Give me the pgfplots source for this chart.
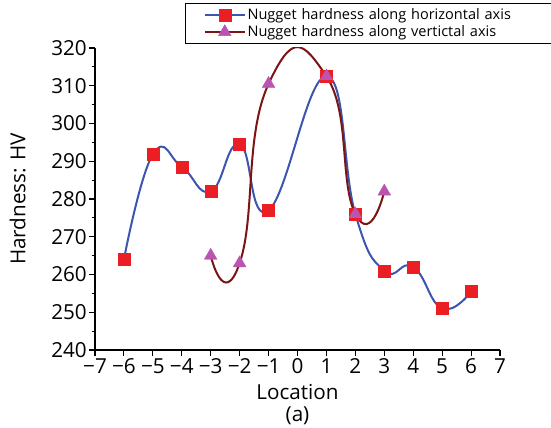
\documentclass[border=0pt]{standalone}
\usepackage{fontspec}
\setmainfont{Open Sans}
\usepackage{pgfplots}
\pgfplotsset{compat=1.18}
\definecolor{hblue}{RGB}{60,85,175}
\definecolor{hred}{RGB}{235,30,35}
\definecolor{vdark}{RGB}{125,20,20}
\definecolor{vpurp}{RGB}{185,85,175}
\begin{document}
\begin{tikzpicture}
\begin{axis}[
  name=ax,
  scale only axis,
  width=303.75pt, height=226.5pt,
  xmin=-7, xmax=7, ymin=240, ymax=320,
  axis x line*=bottom, axis y line*=left,
  axis line style={black, line width=0.8pt},
  xtick={-7,...,7},
  xticklabels={−7,−6,−5,−4,−3,−2,−1,0,1,2,3,4,5,6,7},
  ytick={240,250,...,320},
  minor y tick num=1,
  tick align=outside,
  major tick length=4.5pt, minor tick length=2.5pt,
  tick style={black, line width=0.8pt},
  /pgf/number format/assume math mode=true,
  ticklabel style={font=\fontsize{15.5}{18}\selectfont},
  yticklabel style={inner xsep=1.5pt},
  xticklabel style={inner ysep=2pt},
  label style={font=\fontsize{15.5}{18}\selectfont},
  xlabel={Location},
  xlabel style={at={(axis description cs:0.5,-0.1656)}, anchor=base},
  ylabel={Hardness: HV},
  ylabel style={at={(axis description cs:-0.172,0.5)}, anchor=base},
  clip=true,
  legend cell align=left,
  legend style={at={(axis description cs:0.222,1.149)}, anchor=north west, draw=black, line width=0.6pt,
    font=\fontsize{10.9}{12.5}\selectfont, row sep=0.3pt, inner xsep=14pt, inner ysep=2.3pt,
    nodes={inner xsep=1.5pt, inner ysep=1.4pt, text width=225pt},
    /tikz/every even column/.append style={column sep=0pt}},
  legend image code/.code={\draw[mark repeat=2,mark phase=2,#1] plot coordinates {(0pt,0pt) (15pt,0pt) (30pt,0pt)};},
  legend image post style={line width=1.2pt, sharp plot},
]
\addplot[hblue, line width=1.5pt, smooth, tension=0.8,
  mark=square*, mark size=4.5pt, mark options={fill=hred, draw=hred, line width=0.3pt}]
  coordinates {(-6,264) (-5,291.8) (-4,288.5) (-3,282) (-2,294.5) (-1,277)
               (1,312.5) (2,276) (3,261) (4,262) (5,251) (6,255.5)};
\addlegendentry{Nugget hardness along horizontal axis}
\addplot[vdark, line width=1.5pt, smooth, tension=1.0,
  mark=triangle*, mark size=5.5pt, mark options={fill=vpurp, draw=vpurp, line width=0.3pt}]
  coordinates {(-3,265) (-2,263) (-1,310.5) (1,312.5) (2,276) (3,282)};
\addlegendentry{Nugget hardness along vertictal axis}
\end{axis}
\node[font=\fontsize{15.5}{18}\selectfont, anchor=base] at ([yshift=-54pt]ax.south) {(a)};
\pgfresetboundingbox
\useasboundingbox ([xshift=-71.25pt,yshift=-58.5pt]ax.south west) rectangle ([xshift=38.25pt,yshift=36pt]ax.north east);
\end{tikzpicture}
\end{document}
